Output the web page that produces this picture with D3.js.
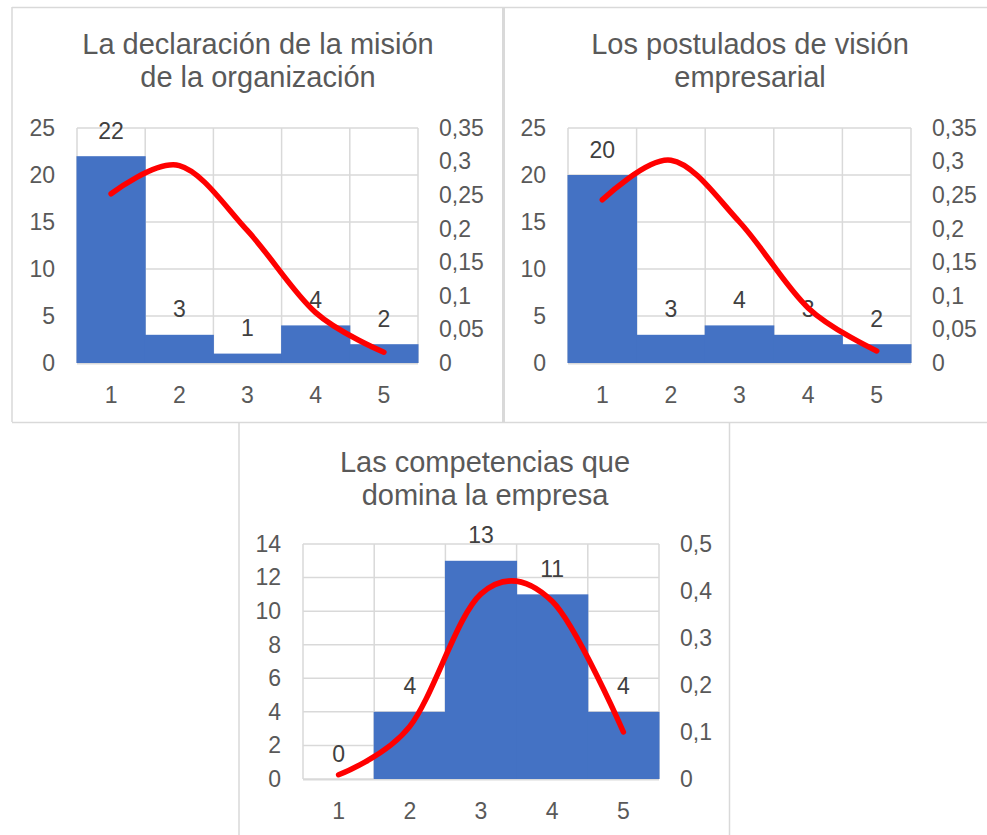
<!DOCTYPE html>
<html lang="es">
<head>
<meta charset="utf-8">
<title>Histogramas con curva normal</title>
<script src="https://cdn.jsdelivr.net/npm/d3@7"></script>
<style>
  html, body { margin: 0; padding: 0; background: #ffffff; }
  svg { display: block; font-family: "Liberation Sans", Arial, sans-serif; }
</style>
</head>
<body>
<svg id="chart" width="987" height="835"></svg>
<script>
// Categories of the Likert scale (1–5)
const categories = [1, 2, 3, 4, 5];

// "La declaración de la misión de la organización"
const misionTitle = ["La declaración de la misión", "de la organización"];
const misionCounts = [22, 3, 1, 4, 2];
const misionNormal = [0.252, 0.294, 0.197, 0.075, 0.016];

// "Los postulados de visión empresarial"
const visionTitle = ["Los postulados de visión", "empresarial"];
const visionCounts = [20, 3, 4, 3, 2];
const visionNormal = [0.243, 0.302, 0.210, 0.082, 0.018];

// "Las competencias que domina la empresa"
const competenciasTitle = ["Las competencias que", "domina la empresa"];
const competenciasCounts = [0, 4, 13, 11, 4];
const competenciasNormal = [0.009, 0.112, 0.394, 0.378, 0.100];

// Axis ticks
const countTicks25 = [0, 5, 10, 15, 20, 25];
const densityTicks035 = [0, 0.05, 0.1, 0.15, 0.2, 0.25, 0.3, 0.35];
const countTicks14 = [0, 2, 4, 6, 8, 10, 12, 14];
const densityTicks05 = [0, 0.1, 0.2, 0.3, 0.4, 0.5];

const svg = d3.select("#chart");

const GRID = "#d9d9d9";
const TEXT = "#595959";
const LABEL = "#404040";
const BAR = "#4472C4";
const CURVE = "#FF0000";

const esLocale = d3.formatLocale({ decimal: ",", thousands: ".", grouping: [3], currency: ["", " €"] });
const fmtDensity = esLocale.format("~g");

// Panel frames
const frames = svg.append("g").attr("fill", "none").attr("stroke", GRID);
frames.append("path").attr("stroke-width", 1.5)
  .attr("d", "M12,7.5H987 M12,7V422 M12,422.5H987 M239,422V835 M729.5,422V835");
frames.append("path").attr("stroke-width", 3).attr("d", "M503.5,7V422");

const panels = [
  { title: misionTitle, counts: misionCounts, normal: misionNormal,
    leftTicks: countTicks25, rightTicks: densityTicks035,
    plot: { x0: 77, x1: 418, y0: 128, y1: 363 }, titleX: 258, titleY: 54 },
  { title: visionTitle, counts: visionCounts, normal: visionNormal,
    leftTicks: countTicks25, rightTicks: densityTicks035,
    plot: { x0: 568, x1: 911, y0: 128, y1: 363 }, titleX: 750, titleY: 54 },
  { title: competenciasTitle, counts: competenciasCounts, normal: competenciasNormal,
    leftTicks: countTicks14, rightTicks: densityTicks05,
    plot: { x0: 303, x1: 659, y0: 544, y1: 779 }, titleX: 485, titleY: 472 }
];

panels.forEach(p => {
  const g = svg.append("g");
  const { x0, x1, y0, y1 } = p.plot;

  const x = d3.scaleBand().domain(categories).range([x0, x1]).paddingInner(0).paddingOuter(0);
  const yL = d3.scaleLinear().domain([0, d3.max(p.leftTicks)]).range([y1, y0]);
  const yR = d3.scaleLinear().domain([0, d3.max(p.rightTicks)]).range([y1, y0]);

  // Title (two lines)
  g.append("text")
    .attr("x", p.titleX).attr("y", p.titleY)
    .attr("text-anchor", "middle")
    .attr("font-size", 29).attr("fill", TEXT)
    .selectAll("tspan").data(p.title).join("tspan")
    .attr("x", p.titleX).attr("dy", (d, i) => i === 0 ? 0 : 33)
    .text(d => d);

  // Gridlines
  const grid = g.append("g").attr("stroke", GRID).attr("stroke-width", 1.5);
  grid.selectAll("line.h").data(p.leftTicks).join("line").attr("class", "h")
    .attr("x1", x0).attr("x2", x1)
    .attr("y1", d => yL(d)).attr("y2", d => yL(d));
  const bounds = categories.map(c => x(c)).concat([x1]);
  grid.selectAll("line.v").data(bounds).join("line").attr("class", "v")
    .attr("x1", d => d).attr("x2", d => d)
    .attr("y1", y0).attr("y2", y1);

  // Bars (histogram: no gaps; a hair of overlap hides seams between neighbours)
  g.append("g").selectAll("rect").data(categories).join("rect")
    .attr("x", c => x(c) - 0.5)
    .attr("width", x.bandwidth() + 1)
    .attr("y", (c, i) => yL(p.counts[i]))
    .attr("height", (c, i) => y1 - yL(p.counts[i]))
    .attr("fill", BAR);

  // Baseline
  g.append("line").attr("stroke", GRID).attr("stroke-width", 1.5)
    .attr("x1", x0).attr("x2", x1).attr("y1", y1 + 0.75).attr("y2", y1 + 0.75);

  // Axes
  const styleAxis = sel => {
    sel.select(".domain").remove();
    sel.selectAll("text").attr("font-size", 23).attr("fill", TEXT)
      .attr("font-family", "'Liberation Sans', Arial, sans-serif");
  };
  g.append("g").attr("transform", `translate(${x0},0)`)
    .call(d3.axisLeft(yL).tickValues(p.leftTicks).tickSize(0).tickPadding(22).tickFormat(d3.format("d")))
    .call(styleAxis);
  g.append("g").attr("transform", `translate(${x1},0)`)
    .call(d3.axisRight(yR).tickValues(p.rightTicks).tickSize(0).tickPadding(21).tickFormat(fmtDensity))
    .call(styleAxis);
  g.append("g").attr("transform", `translate(0,${y1})`)
    .call(d3.axisBottom(x).tickSize(0).tickPadding(24))
    .call(styleAxis);

  // Data labels above each bar
  g.append("g").selectAll("text").data(categories).join("text")
    .attr("x", c => x(c) + x.bandwidth() / 2)
    .attr("y", (c, i) => yL(p.counts[i]) - 17.5)
    .attr("text-anchor", "middle")
    .attr("font-size", 23).attr("fill", LABEL)
    .text((c, i) => p.counts[i]);

  // Normal curve on the secondary axis
  const line = d3.line()
    .x(c => x(c) + x.bandwidth() / 2)
    .y((c, i) => yR(p.normal[i]))
    .curve(d3.curveCardinal.tension(0));
  g.append("path").datum(categories)
    .attr("d", line)
    .attr("fill", "none").attr("stroke", CURVE)
    .attr("stroke-width", 5.5).attr("stroke-linecap", "round").attr("stroke-linejoin", "round");
});
</script>
</body>
</html>
